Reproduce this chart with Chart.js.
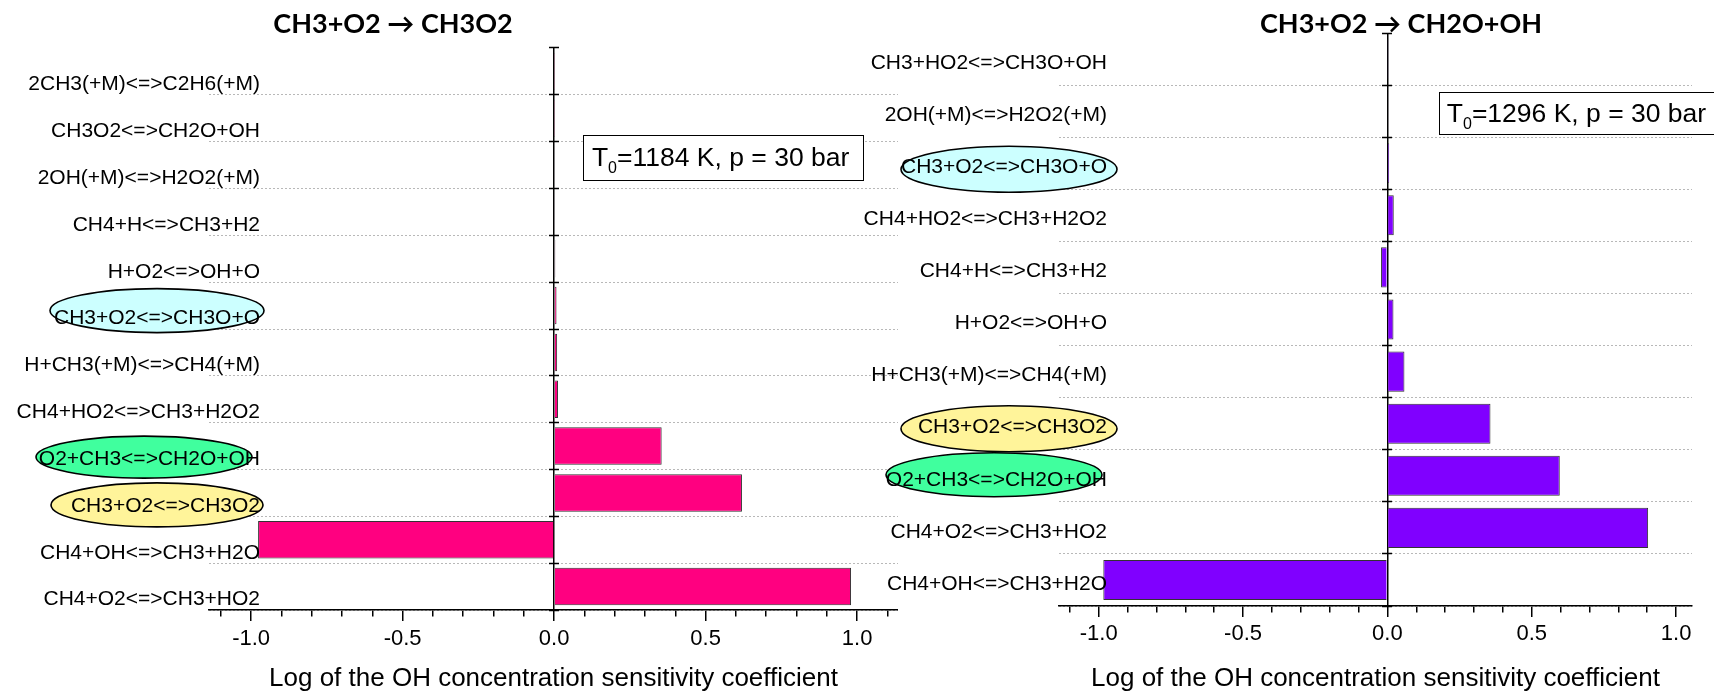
<!DOCTYPE html>
<html>
<head>
<meta charset="utf-8">
<script src="https://cdn.jsdelivr.net/npm/chart.js@4.4.1/dist/chart.umd.min.js"></script>
<style>
  html, body { margin: 0; padding: 0; background: #ffffff; width: 1714px; height: 692px; overflow: hidden; position: relative; }
  .wrap { position: absolute; top: 0; height: 692px; }
  #wrapLeft { left: -112px; width: 1010px; }
  #wrapRight { left: 820px; width: 1162px; }
  canvas { display: block; }
</style>
</head>
<body>
<div class="wrap" id="wrapLeft"><canvas id="chartLeft" width="1010" height="692"></canvas></div>
<div class="wrap" id="wrapRight"><canvas id="chartRight" width="1162" height="692"></canvas></div>
<script>
// ---------------- data ----------------
const leftTitle = 'CH3+O2 \u2192 CH3O2';
const rightTitle = 'CH3+O2 \u2192 CH2O+OH';
const xAxisTitle = 'Log of the OH concentration sensitivity coefficient';

const leftReactions = [
  '2CH3(+M)<=>C2H6(+M)',
  'CH3O2<=>CH2O+OH',
  '2OH(+M)<=>H2O2(+M)',
  'CH4+H<=>CH3+H2',
  'H+O2<=>OH+O',
  'CH3+O2<=>CH3O+O',
  'H+CH3(+M)<=>CH4(+M)',
  'CH4+HO2<=>CH3+H2O2',
  'O2+CH3<=>CH2O+OH',
  'CH3+O2<=>CH3O2',
  'CH4+OH<=>CH3+H2O',
  'CH4+O2<=>CH3+HO2'
];
const leftSensitivity = [0.001, 0.001, 0.002, 0.003, 0.004, 0.008, 0.010, 0.013, 0.355, 0.620, -0.977, 0.980];

const rightReactions = [
  'CH3+HO2<=>CH3O+OH',
  '2OH(+M)<=>H2O2(+M)',
  'CH3+O2<=>CH3O+O',
  'CH4+HO2<=>CH3+H2O2',
  'CH4+H<=>CH3+H2',
  'H+O2<=>OH+O',
  'H+CH3(+M)<=>CH4(+M)',
  'CH3+O2<=>CH3O2',
  'O2+CH3<=>CH2O+OH',
  'CH4+O2<=>CH3+HO2',
  'CH4+OH<=>CH3+H2O'
];
const rightSensitivity = [0.001, 0.002, 0.006, 0.022, -0.022, 0.021, 0.059, 0.357, 0.597, 0.903, -0.984];

const xTickValues = [-1.1, -1.0, -0.9, -0.8, -0.7, -0.6, -0.5, -0.4, -0.3, -0.2, -0.1, 0.0,
                     0.1, 0.2, 0.3, 0.4, 0.5, 0.6, 0.7, 0.8, 0.9, 1.0, 1.1];

const leftTemperature = '1184 K';
const rightTemperature = '1296 K';
const pressure = '30 bar';

const highlightFills = {
  'CH3+O2<=>CH3O+O': '#CCFFFF',
  'O2+CH3<=>CH2O+OH': '#40FF9E',
  'CH3+O2<=>CH3O2': '#FFF49A'
};

// ---------------- drawing helpers ----------------
const FAMILY = '"Liberation Sans", Arial, sans-serif';
Chart.defaults.font.family = FAMILY;
Chart.defaults.color = '#000';
const LABEL_SIZE = 21;

function widestLabel(labels) {
  const c = document.createElement('canvas').getContext('2d');
  c.font = 'normal ' + LABEL_SIZE + 'px ' + FAMILY;
  return Math.max.apply(null, labels.map(l => c.measureText(l).width));
}

const decorPlugin = {
  id: 'decor',
  beforeDatasetsDraw(chart, args, opts) {
    const ctx = chart.ctx;
    const y = chart.scales.y;
    const labelRight = chart.chartArea.left + opts.labelInset;
    ctx.save();
    (opts.ellipses || []).forEach(e => {
      const i = chart.data.labels.indexOf(e.label);
      if (i < 0) return;
      const cy = y.getPixelForTick(i) + e.dy;
      const cx = labelRight + e.dx;
      ctx.beginPath();
      ctx.ellipse(cx, cy, e.rx, e.ry, 0, 0, Math.PI * 2);
      ctx.fillStyle = highlightFills[e.label];
      ctx.fill();
      ctx.lineWidth = 1.6;
      ctx.strokeStyle = '#000';
      ctx.stroke();
    });
    ctx.restore();
  },
  afterDraw(chart, args, opts) {
    const b = opts.box;
    if (!b) return;
    const ctx = chart.ctx;
    const x = chart.scales.x, y = chart.scales.y;
    const bx = x.getPixelForValue(b.xValue);
    const cy = y.getPixelForValue(b.yValue);
    const top = cy - b.height / 2;
    ctx.save();
    ctx.fillStyle = '#fff';
    ctx.fillRect(bx, top, b.width, b.height);
    ctx.lineWidth = 1;
    ctx.strokeStyle = '#000';
    ctx.strokeRect(Math.round(bx) + 0.5, Math.round(top) + 0.5, b.width, b.height);
    ctx.fillStyle = '#000';
    ctx.textBaseline = 'alphabetic';
    ctx.textAlign = 'left';
    const base = cy + 9;
    let tx = bx + b.padLeft;
    ctx.font = '26.5px ' + FAMILY;
    ctx.fillText('T', tx, base);
    tx += ctx.measureText('T').width;
    ctx.font = '16px ' + FAMILY;
    ctx.fillText('0', tx, base + 7);
    tx += ctx.measureText('0').width;
    ctx.font = '26.5px ' + FAMILY;
    ctx.fillText('=' + b.temperature + ', p = ' + pressure, tx, base);
    ctx.restore();
  }
};

function makeChart(canvasId, cfg) {
  const widest = widestLabel(cfg.labels);
  const scales = {
    x: {
      type: 'linear',
      min: cfg.xMin,
      max: cfg.xMax,
      afterBuildTicks: s => {
        s.ticks = xTickValues.filter(v => v >= s.min - 1e-9 && v <= s.max + 1e-9).map(v => ({ value: v }));
      },
      afterFit: s => { s.height = cfg.xHeight; },
      grid: {
        drawOnChartArea: true,
        color: c => (c.tick && Math.abs(c.tick.value) < 1e-9) ? '#000' : 'rgba(0,0,0,0)',
        lineWidth: 1.5,
        drawTicks: true,
        tickLength: 11,
        tickColor: '#000',
        tickWidth: 1.5,
        tickBorderDash: c => (c.tick && Math.abs(Math.round(c.tick.value * 10)) % 5 === 0) ? [] : [6, 30]
      },
      border: { display: true, color: '#000', width: 1.5 },
      ticks: {
        autoSkip: false,
        maxRotation: 0,
        padding: cfg.xTickPadding,
        font: { size: 22 },
        color: '#000',
        callback: v => (Math.abs(Math.round(v * 10)) % 5 === 0) ? Number(v).toFixed(1) : ''
      },
      title: {
        display: true,
        text: xAxisTitle,
        font: { size: 26, lineHeight: '26px' },
        color: '#000',
        padding: { top: 0, bottom: 0 }
      }
    },
    y: {
      type: 'category',
      offset: true,
      afterFit: s => { s.width = cfg.yWidth; },
      grid: {
        offset: true,
        drawTicks: false,
        color: c => c.index === 0 ? 'rgba(0,0,0,0)' : '#b8b8b8',
        lineWidth: 1
      },
      border: { display: false, dash: [2, 2] },
      ticks: {
        autoSkip: false,
        mirror: true,
        crossAlign: 'far',
        padding: cfg.labelInset - widest,
        labelOffset: cfg.labelOffset,
        font: { size: LABEL_SIZE },
        color: '#000',
        z: 1
      }
    },
    yTickLeft: {
      type: 'category',
      position: { x: 0 },
      offset: true,
      afterFit: s => { s.width = 0; },
      grid: { offset: true, drawOnChartArea: false, drawTicks: true, tickLength: 5, tickColor: '#000', tickWidth: 1.5 },
      border: { display: false },
      ticks: { display: false }
    },
    yTickRight: {
      type: 'category',
      position: { x: 0 },
      offset: true,
      afterFit: s => { s.width = 0; },
      grid: { offset: true, drawOnChartArea: false, drawTicks: true, tickLength: -5, tickColor: '#000', tickWidth: 1.5 },
      border: { display: false },
      ticks: { display: false }
    }
  };
  if (cfg.rightSpacer) {
    scales.spacer = {
      type: 'linear',
      position: 'right',
      afterFit: s => { s.width = cfg.rightSpacer; },
      grid: { display: false },
      border: { display: false },
      ticks: { display: false }
    };
  }
  return new Chart(document.getElementById(canvasId), {
    type: 'bar',
    data: {
      labels: cfg.labels,
      datasets: [{
        data: cfg.values,
        backgroundColor: cfg.color,
        borderColor: '#333333',
        borderWidth: 1,
        barPercentage: cfg.barPercentage,
        categoryPercentage: 1.0
      }]
    },
    options: {
      indexAxis: 'y',
      responsive: false,
      animation: false,
      layout: { padding: 0 },
      scales: scales,
      plugins: {
        legend: { display: false },
        tooltip: { enabled: false },
        title: {
          display: true,
          text: cfg.title,
          color: '#000',
          font: { family: 'Lato, "Liberation Sans", sans-serif', weight: 'bold', size: 27, lineHeight: '18px' },
          padding: { top: 15, bottom: cfg.titleBottom }
        },
        decor: {
          labelInset: cfg.labelInset,
          ellipses: cfg.ellipses,
          box: cfg.box
        }
      }
    },
    plugins: [decorPlugin]
  });
}

makeChart('chartLeft', {
  title: leftTitle,
  labels: leftReactions,
  values: leftSensitivity,
  color: '#FF0080',
  xMin: -1.139, xMax: 1.135,
  xHeight: 82, xTickPadding: 5,
  yWidth: 321, labelInset: 51, labelOffset: 13,
  titleBottom: 15,
  barPercentage: 0.8,
  ellipses: [
    { label: 'CH3+O2<=>CH3O+O', dx: -103, dy: 5, rx: 107, ry: 22 },
    { label: 'O2+CH3<=>CH2O+OH', dx: -116, dy: 11, rx: 108, ry: 21 },
    { label: 'CH3+O2<=>CH3O2', dx: -103, dy: 12, rx: 106, ry: 22 }
  ],
  box: { xValue: 0.095, yValue: 1.838, width: 280, height: 45, padLeft: 9, temperature: leftTemperature }
});

makeChart('chartRight', {
  title: rightTitle,
  labels: rightReactions,
  values: rightSensitivity,
  color: '#8000FF',
  xMin: -1.1375, xMax: 1.055,
  xHeight: 86, xTickPadding: 4,
  yWidth: 239, labelInset: 48, labelOffset: 4,
  titleBottom: 0,
  rightSpacer: 290,
  barPercentage: 0.77,
  ellipses: [
    { label: 'CH3+O2<=>CH3O+O', dx: -98, dy: 6, rx: 108, ry: 23 },
    { label: 'CH3+O2<=>CH3O2', dx: -98, dy: 5, rx: 108, ry: 23 },
    { label: 'O2+CH3<=>CH2O+OH', dx: -113, dy: -1, rx: 108, ry: 22 }
  ],
  box: { xValue: 0.178, yValue: 1.035, width: 300, height: 42, padLeft: 8, temperature: rightTemperature }
});
</script>
</body>
</html>
